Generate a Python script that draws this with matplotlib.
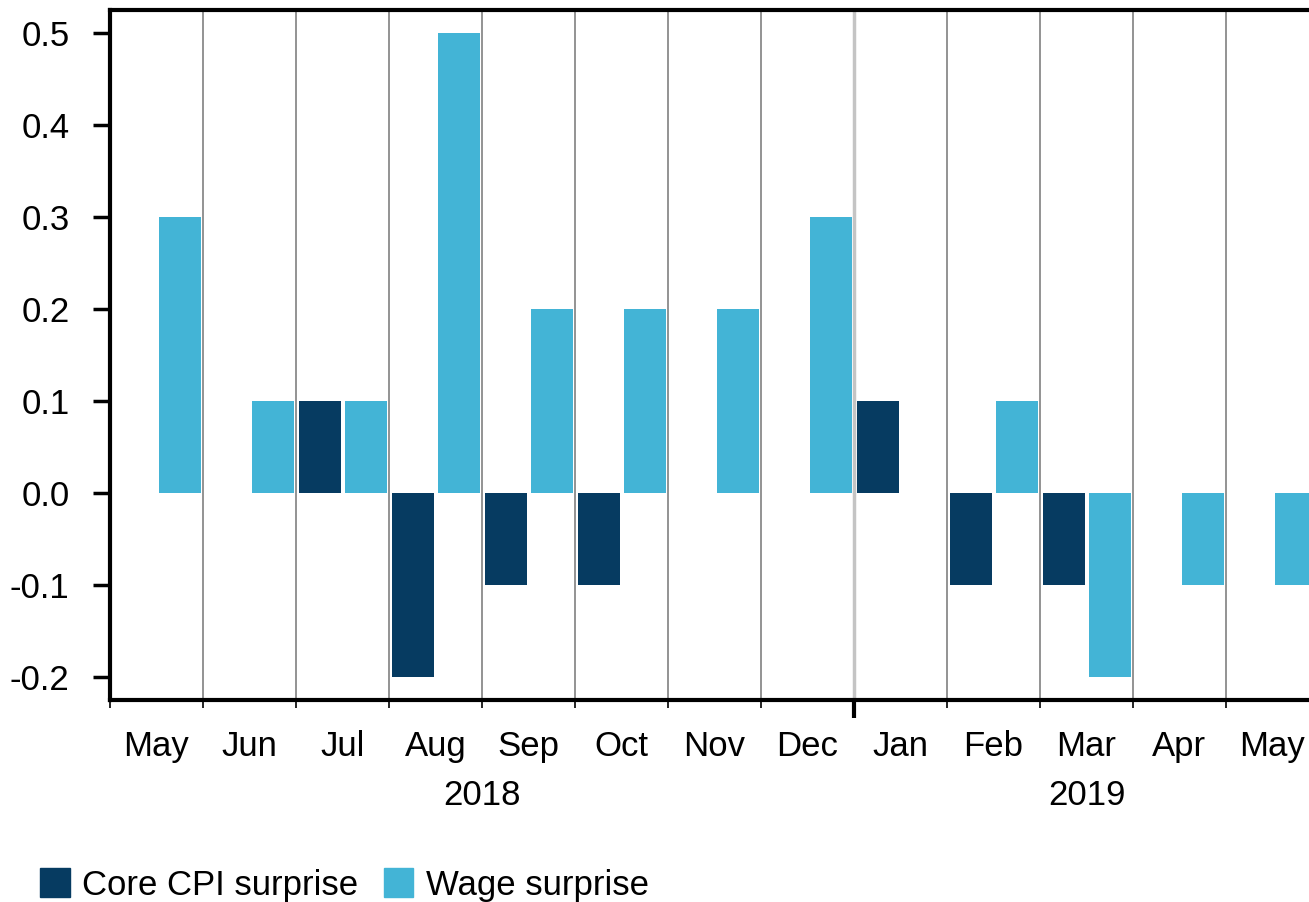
import matplotlib.pyplot as plt
from matplotlib.patches import Patch
import numpy as np

plt.rcParams['font.family'] = ['Liberation Sans', 'DejaVu Sans']

# Données (mai 2018 - mai 2019)
mois = ["May", "Jun", "Jul", "Aug", "Sep", "Oct", "Nov", "Dec",
        "Jan", "Feb", "Mar", "Apr", "May"]
annees = ["2018", "2019"]
core_cpi = [0.0, 0.0, 0.1, -0.2, -0.1, -0.1, 0.0, 0.0,
            0.1, -0.1, -0.1, 0.0, 0.0]
salaires = [0.3, 0.1, 0.1, 0.5, 0.2, 0.2, 0.2, 0.3,
            0.0, 0.1, -0.2, -0.1, -0.1]
yticks = [-0.2, -0.1, 0.0, 0.1, 0.2, 0.3, 0.4, 0.5]

couleur_core = "#063b61"
couleur_salaire = "#43b4d6"
taille = 25

fig = plt.figure(figsize=(13.09, 9.02), dpi=100)
ax = fig.add_axes([110 / 1309, 1 - 700 / 902, 1 - 110 / 1309, (700 - 10) / 902])

x = np.arange(len(mois))
ax.bar(x + 0.26, core_cpi, width=0.45, color=couleur_core, zorder=3)
ax.bar(x + 0.75, salaires, width=0.45, color=couleur_salaire, zorder=3)

# Séparateurs de mois
for i in range(1, len(mois)):
    if i == 8:
        ax.axvline(i, color="#c4c4c4", lw=2.5, zorder=1)
    else:
        ax.axvline(i, color="#8a8a8a", lw=1.3, zorder=1)

ax.set_xlim(0, (1309 - 110) / 93)
ax.set_ylim(-0.225, 0.525)

ax.set_yticks(yticks)
ax.set_yticklabels([f"{v:.1f}" for v in yticks])
ax.tick_params(axis="y", labelsize=taille, length=12, width=2.5, pad=17)

ax.set_xticks([8])
ax.set_xticklabels([])
ax.set_xticks(range(0, 13), minor=True)
ax.tick_params(axis="x", which="major", length=13, width=3)
ax.tick_params(axis="x", which="minor", length=6, width=1.2)

for spine in ["left", "bottom", "top"]:
    ax.spines[spine].set_linewidth(3)
ax.spines["right"].set_visible(False)

trans = ax.get_xaxis_transform()
for i, m in enumerate(mois):
    ax.text(i + 0.5, -0.068, m, transform=trans, ha="center", va="center",
            fontsize=taille)
ax.text(4.0, -0.138, annees[0], transform=trans, ha="center", va="center",
        fontsize=taille)
ax.text(10.5, -0.138, annees[1], transform=trans, ha="center", va="center",
        fontsize=taille)

handles = [Patch(color=couleur_core, label="Core CPI surprise"),
           Patch(color=couleur_salaire, label="Wage surprise")]
fig.legend(handles=handles, loc="center left",
           bbox_to_anchor=(40 / 1309, 17 / 902), borderpad=0,
           borderaxespad=0, ncol=2, frameon=False, fontsize=taille,
           handlelength=0.85, handleheight=0.9, handletextpad=0.35,
           columnspacing=0.75)

fig.savefig("out.png", dpi=100)
